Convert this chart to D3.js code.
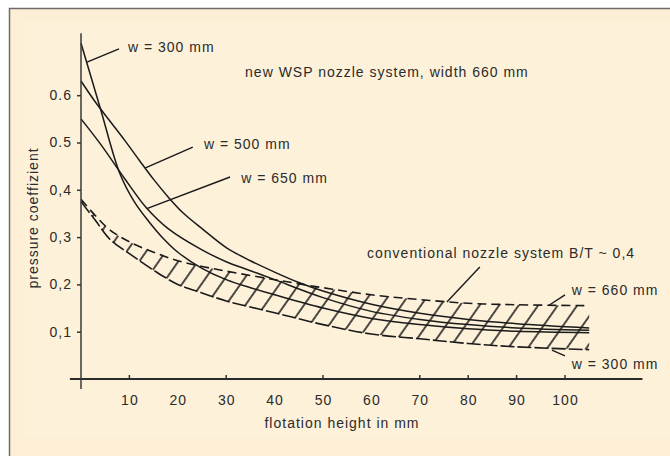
<!DOCTYPE html>
<html>
<head>
<meta charset="utf-8">
<script src="https://cdn.jsdelivr.net/npm/d3@7"></script>
<style>
body { margin: 0; background: #fff; }
svg text { font-family: "Liberation Sans", Arial, sans-serif; font-size: 14px; fill: #2b2b2b; letter-spacing: 1px; }
</style>
</head>
<body>
<div id="chart"></div>
<script>
// flotation height (mm) vs pressure coefficient
const w300 = [[0,0.71],[4,0.572],[8,0.435],[11,0.375],[14,0.333],[17,0.297],[20,0.268],[25,0.234],[30,0.21],[35,0.193],[40,0.178],[50,0.15],[60,0.128],[70,0.115],[80,0.106],[90,0.101],[105,0.098]];
const w500 = [[0,0.63],[3,0.585],[6,0.545],[9,0.505],[12,0.463],[15,0.422],[18,0.385],[21,0.352],[25,0.318],[30,0.278],[35,0.25],[40,0.226],[45,0.204],[50,0.186],[60,0.158],[70,0.139],[80,0.126],[90,0.117],[105,0.108]];
const w650 = [[0,0.55],[4,0.497],[9,0.424],[13.5,0.362],[18,0.318],[25,0.273],[30,0.248],[35,0.229],[40,0.21],[50,0.172],[60,0.143],[70,0.126],[80,0.115],[90,0.108],[105,0.103]];

// conventional nozzle system band (w = 300 .. 660 mm)
const bandX      = [0, 3, 6, 10, 15, 20, 25, 30, 40, 50, 60, 70, 80, 90, 105];
const bandTop    = [0.38, 0.345, 0.315, 0.29, 0.268, 0.25, 0.238, 0.228, 0.21, 0.193, 0.178, 0.168, 0.16, 0.157, 0.155];
const bandBottom = [0.375, 0.335, 0.295, 0.265, 0.23, 0.2, 0.182, 0.165, 0.14, 0.115, 0.095, 0.085, 0.075, 0.068, 0.062];

const xTickLabels = [10, 20, 30, 40, 50, 60, 70, 80, 90, 100];
const xTickMarks = [10, 30, 50, 70, 80, 90, 100];
const yTicks = [0.1, 0.2, 0.3, 0.4, 0.5, 0.6];
const yTickLabels = ['0,1', '0,2', '0,3', '0,4', '0.5', '0.6'];

const title = 'new WSP nozzle system, width 660 mm';
const xTitle = 'flotation height in mm';
const yTitle = 'pressure coeffizient';

// annotations in data units: label text, label anchor, leader line
const labels = [
  {text: 'w = 300 mm', at: [9.7, 0.691], leader: [[7.85, 0.698], [1.24, 0.67]]},
  {text: 'w = 500 mm', at: [25.4, 0.486], leader: [[23.1, 0.49], [13.2, 0.446]]},
  {text: 'w = 650 mm', at: [33.1, 0.414], leader: [[30.8, 0.427], [13.6, 0.36]]},
  {text: 'conventional nozzle system B/T ~ 0,4', at: [59.1, 0.256], leader: [[82.4, 0.237], [75.6, 0.163]]},
  {text: 'w = 660 mm', at: [101.4, 0.178], leader: [[100, 0.178], [96.7, 0.156]]},
  {text: 'w = 300 mm', at: [101.4, 0.021], leader: [[100, 0.049], [97.3, 0.061]]}
];

const width = 670;
const height = 456;
const ink = '#1a1a1a';

const xScale = d3.scaleLinear().domain([0, 100]).range([81, 565]);
const yScale = d3.scaleLinear().domain([0, 0.6]).range([379, 95.2]);

const svg = d3.select('#chart').append('svg')
  .attr('width', width)
  .attr('height', height);

// panel
svg.append('rect').attr('x', 9).attr('y', 8).attr('width', width - 9).attr('height', height - 8).attr('fill', '#fcefd6');
svg.append('rect').attr('x', 25).attr('y', 22).attr('width', width - 25).attr('height', 415).attr('fill', '#fdf1da');
svg.append('path').attr('d', `M9.5,${height}V8.5H${width}`).attr('fill', 'none').attr('stroke', '#6b6b6b').attr('stroke-width', 1.5);

// hatch pattern for the band
const defs = svg.append('defs');
const pat = defs.append('pattern')
  .attr('id', 'hatch')
  .attr('patternUnits', 'userSpaceOnUse')
  .attr('width', 16).attr('height', 16)
  .attr('patternTransform', 'rotate(35)');
pat.append('line')
  .attr('x1', 8).attr('y1', -2).attr('x2', 8).attr('y2', 18)
  .attr('stroke', '#111').attr('stroke-width', 1.5);

const bandData = bandX.map((x, i) => ({x: x, top: bandTop[i], bottom: bandBottom[i]}));

const area = d3.area()
  .x(d => xScale(d.x))
  .y0(d => yScale(d.bottom))
  .y1(d => yScale(d.top))
  .curve(d3.curveCatmullRom);

svg.append('path').datum(bandData).attr('d', area).attr('fill', 'url(#hatch)');

const edge = key => d3.line()
  .x(d => xScale(d.x))
  .y(d => yScale(d[key]))
  .curve(d3.curveCatmullRom);

svg.append('path').datum(bandData).attr('d', edge('top'))
  .attr('fill', 'none').attr('stroke', ink).attr('stroke-width', 1.6)
  .attr('stroke-dasharray', '9,5');
svg.append('path').datum(bandData).attr('d', edge('bottom'))
  .attr('fill', 'none').attr('stroke', ink).attr('stroke-width', 1.6)
  .attr('stroke-dasharray', '14,3');

// WSP curves
const line = d3.line()
  .x(d => xScale(d[0]))
  .y(d => yScale(d[1]))
  .curve(d3.curveCatmullRom);

svg.selectAll('.curve').data([w300, w500, w650])
  .enter().append('path')
  .attr('class', 'curve')
  .attr('d', line)
  .attr('fill', 'none')
  .attr('stroke', ink)
  .attr('stroke-width', 1.5);

// axes
const xAxis = d3.axisBottom(xScale)
  .tickValues(xTickLabels)
  .tickFormat(d => d)
  .tickSizeInner(0)
  .tickSizeOuter(0)
  .tickPadding(16);

const gx = svg.append('g').attr('transform', `translate(0,${yScale(0)})`).call(xAxis);
gx.select('.domain').remove();
gx.selectAll('text').attr('font-size', null).attr('font-family', null).attr('fill', null);

svg.selectAll('.xtick').data(xTickMarks)
  .enter().append('line')
  .attr('class', 'xtick')
  .attr('x1', d => xScale(d)).attr('x2', d => xScale(d))
  .attr('y1', yScale(0)).attr('y2', yScale(0) - 4)
  .attr('stroke', '#333').attr('stroke-width', 1.5);

const yAxis = d3.axisLeft(yScale)
  .tickValues(yTicks)
  .tickFormat((d, i) => yTickLabels[i])
  .tickSizeInner(4)
  .tickSizeOuter(0)
  .tickPadding(5);

const gy = svg.append('g').attr('transform', `translate(${xScale(0)},0)`).call(yAxis);
gy.select('.domain').remove();
gy.selectAll('line').attr('stroke', '#333').attr('stroke-width', 1.5);
gy.selectAll('text').attr('font-size', null).attr('font-family', null).attr('fill', null);

// axis lines
svg.append('line')
  .attr('x1', xScale(-2.3)).attr('x2', xScale(116))
  .attr('y1', yScale(0)).attr('y2', yScale(0))
  .attr('stroke', '#2b2b2b').attr('stroke-width', 2);
svg.append('line')
  .attr('x1', xScale(0)).attr('x2', xScale(0))
  .attr('y1', yScale(-0.021)).attr('y2', yScale(0.731))
  .attr('stroke', '#3a3a3a').attr('stroke-width', 1.5);

// titles
svg.append('text').attr('x', 342).attr('y', 428).attr('text-anchor', 'middle').text(xTitle);
svg.append('text')
  .attr('transform', 'translate(38,218) rotate(-90)')
  .attr('text-anchor', 'middle')
  .text(yTitle);
svg.append('text').attr('x', xScale(33.9)).attr('y', yScale(0.638)).text(title);

// annotations
svg.selectAll('.leader').data(labels)
  .enter().append('line')
  .attr('class', 'leader')
  .attr('x1', d => xScale(d.leader[0][0])).attr('y1', d => yScale(d.leader[0][1]))
  .attr('x2', d => xScale(d.leader[1][0])).attr('y2', d => yScale(d.leader[1][1]))
  .attr('stroke', ink).attr('stroke-width', 1.4);

svg.selectAll('.label').data(labels)
  .enter().append('text')
  .attr('class', 'label')
  .attr('x', d => xScale(d.at[0]))
  .attr('y', d => yScale(d.at[1]))
  .text(d => d.text);
</script>
</body>
</html>
